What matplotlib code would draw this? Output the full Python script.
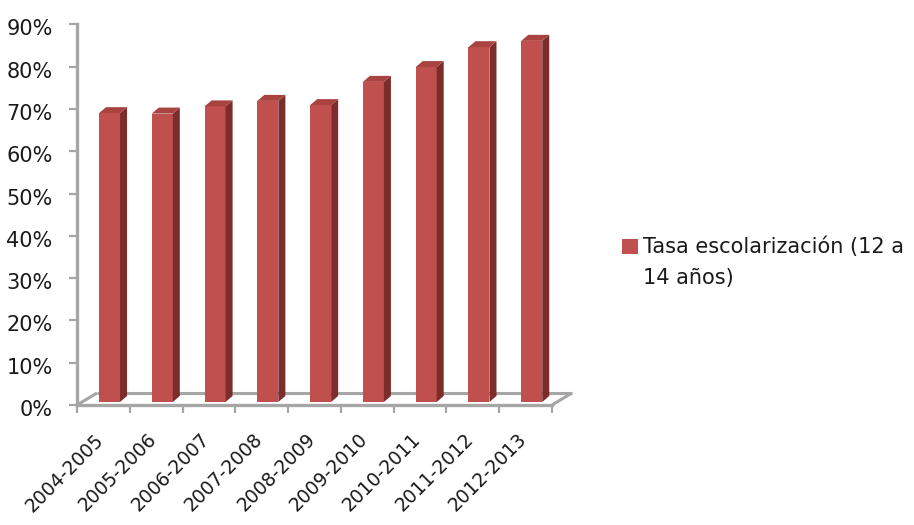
import matplotlib
matplotlib.use("Agg")
import matplotlib.pyplot as plt
from matplotlib.patches import Polygon, Rectangle
from matplotlib.lines import Line2D
from matplotlib.transforms import ScaledTranslation

# School enrolment rate (ages 12-14), by school year
school_years = ["2004-2005", "2005-2006", "2006-2007", "2007-2008", "2008-2009",
                "2009-2010", "2010-2011", "2011-2012", "2012-2013"]
enrolment_rate = [68.3, 68.2, 69.9, 71.2, 70.2, 75.7, 79.2, 83.9, 85.4]
y_ticks = [0, 10, 20, 30, 40, 50, 60, 70, 80, 90]
series_label_lines = ["Tasa escolarización (12 a", "14 años)"]

FRONT = "#C0504D"
SIDE = "#7C2D2B"
TOP = "#A9433F"
AXIS_GREY = "#A6A6A6"
TEXT = "#1A1A1A"
FS = 15

W, H = 914, 525
fig = plt.figure(figsize=(W / 100, H / 100), dpi=100)
ax = fig.add_axes([77 / W, (H - 405) / H, (552 - 77) / W, (405 - 24.4) / H])
ax.set_xlim(0, len(school_years))
ax.set_ylim(0, 90)

# pseudo-3D geometry (category units / percent units)
floor_dx, floor_dy = 0.379, 2.84
bar_dx, bar_dy = 0.133, 1.42
bar_left, bar_w, bar_base = 0.417, 0.398, 0.71

# floor outline (back edge and side edges)
n = len(school_years)
for xs, ys in [([floor_dx, n + floor_dx], [floor_dy, floor_dy]),
               ([0, floor_dx], [0, floor_dy]),
               ([n, n + floor_dx], [0, floor_dy])]:
    ax.add_line(Line2D(xs, ys, color=AXIS_GREY, lw=2.2, clip_on=False, zorder=1,
                       solid_capstyle="butt"))

for i, v in enumerate(enrolment_rate):
    x0 = i + bar_left
    ax.bar(x0, v, width=bar_w, bottom=bar_base, align="edge", color=FRONT,
           edgecolor="none", zorder=3)
    side = [(x0 + bar_w, bar_base), (x0 + bar_w + bar_dx, bar_base + bar_dy),
            (x0 + bar_w + bar_dx, bar_base + v + bar_dy), (x0 + bar_w, bar_base + v)]
    top = [(x0, bar_base + v), (x0 + bar_w, bar_base + v),
           (x0 + bar_w + bar_dx, bar_base + v + bar_dy), (x0 + bar_dx, bar_base + v + bar_dy)]
    ax.add_patch(Polygon(side, closed=True, facecolor=SIDE, edgecolor="none",
                         zorder=3, clip_on=False))
    ax.add_patch(Polygon(top, closed=True, facecolor=TOP, edgecolor="none",
                         zorder=3, clip_on=False))

# axes styling
for s in ["top", "right"]:
    ax.spines[s].set_visible(False)
for s in ["left", "bottom"]:
    ax.spines[s].set_color(AXIS_GREY)
    ax.spines[s].set_linewidth(2.4)
    ax.spines[s].set_zorder(4)

ax.set_yticks(y_ticks)
ax.set_yticklabels([f"{t}%" for t in y_ticks])
ax.tick_params(axis="y", direction="out", length=5.5, width=1.6, color=AXIS_GREY,
               labelsize=FS, labelcolor=TEXT, pad=12)
# y labels sit slightly below their ticks
for lbl in ax.get_yticklabels():
    lbl.set_transform(lbl.get_transform() + ScaledTranslation(0, -3 / 100, fig.dpi_scale_trans))

ax.set_xticks(range(n + 1))
ax.set_xticklabels([])
ax.set_xticks([i + 0.33 for i in range(n)], minor=True)
ax.set_xticklabels(school_years, minor=True, rotation=45, ha="right", va="top",
                   rotation_mode="anchor", fontsize=13.5, color=TEXT)
ax.tick_params(axis="x", which="major", direction="out", length=6, width=1.6,
               color=AXIS_GREY)
ax.tick_params(axis="x", which="minor", length=0, pad=18)

# legend
fig.patches.append(Rectangle((622 / W, 1 - 254 / H), 16 / W, 15 / H,
                             transform=fig.transFigure, facecolor=FRONT,
                             edgecolor="none"))
fig.text(643 / W, 1 - 253 / H, series_label_lines[0], fontsize=FS, color=TEXT,
         ha="left", va="baseline")
fig.text(643 / W, 1 - 284 / H, series_label_lines[1], fontsize=FS, color=TEXT,
         ha="left", va="baseline")

fig.savefig("out.png", dpi=100)
